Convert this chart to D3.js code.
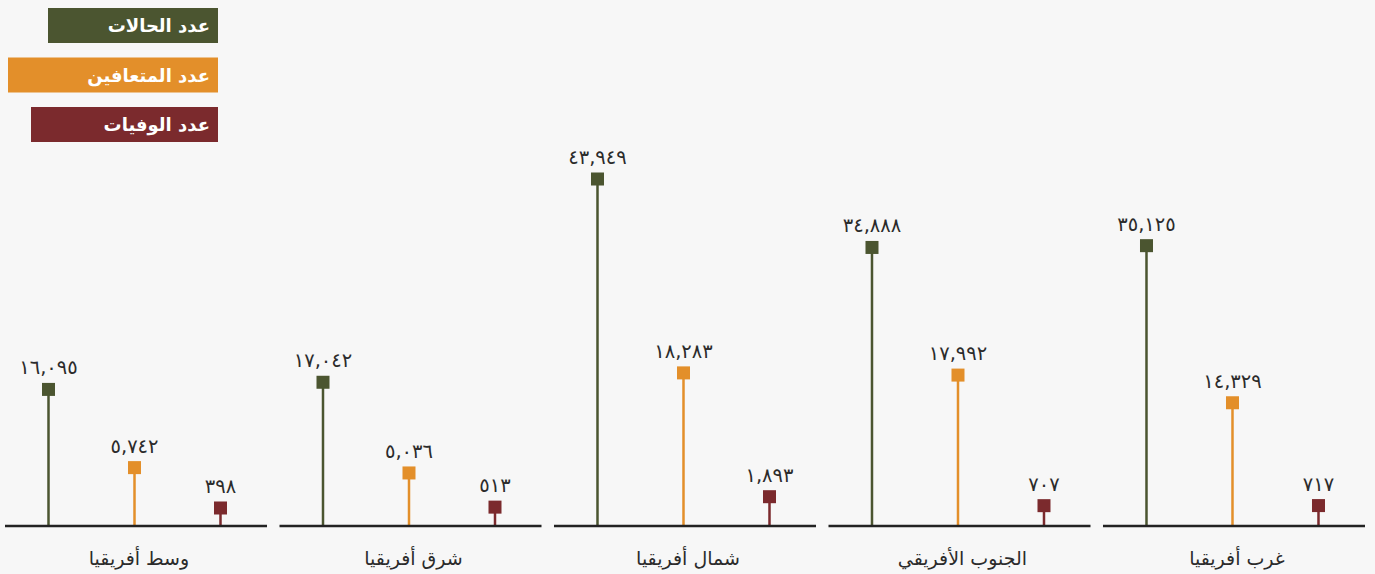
<!DOCTYPE html>
<html lang="ar">
<head>
    <meta charset="UTF-8">
    <title>Africa</title>
    <script src="https://cdn.jsdelivr.net/npm/d3@7"></script>
    <style>
        body{ margin:0; background:#f7f7f7; }
        svg{ display:block; font-family:"DejaVu Sans", sans-serif; }
        .val{ font-size:19.5px; fill:#2b2b2b; }
        .cat{ font-size:19px; fill:#2b2b2b; }
        .leg{ font-size:18px; font-weight:bold; fill:#fff; }
    </style>
</head>
<body>
<svg width="1375" height="574"></svg>
<script>
    // regions, left to right as drawn
    const regions = ["وسط أفريقيا", "شرق أفريقيا", "شمال أفريقيا", "الجنوب الأفريقي", "غرب أفريقيا"];
    const series = ["عدد الحالات", "عدد المتعافين", "عدد الوفيات"];
    const colors = ["#4b5530", "#e38f2a", "#7b2a2d"];
    const cases = [16095, 17042, 43949, 34888, 35125];
    const recovered = [5742, 5036, 18283, 17992, 14329];
    const deaths = [398, 513, 1893, 707, 717];

    const values = [cases, recovered, deaths];
    const baseline = 526;

    const svg = d3.select("svg");

    // arabic-indic digits
    const toArabic = s => s.replace(/[0-9]/g, d => "٠١٢٣٤٥٦٧٨٩"[+d]);
    const fmt = d3.format(",");

    const x = d3.scaleBand().domain(regions).range([5, 1365]).paddingInner(0.0455);
    const xs = d3.scalePoint().domain(series).range([0.5, 258.5]).padding(0.5);
    const y = d3.scaleLinear().domain([0, 43949]).range([baseline - 15, baseline - 347]);

    const panels = svg.selectAll(".panel")
        .data(regions)
        .enter()
        .append("g")
        .attr("transform", d => `translate(${x(d)},0)`);

    panels.each(function(region, ri){
        const g = d3.select(this);
        series.forEach((s, si) => {
            const v = values[si][ri];
            const cx = xs(s);
            g.append("line")
                .attr("x1", cx).attr("x2", cx)
                .attr("y1", baseline).attr("y2", y(v))
                .attr("stroke", colors[si])
                .attr("stroke-width", 2.5);
            g.append("rect")
                .attr("x", cx - 6.5).attr("y", y(v) - 6.5)
                .attr("width", 13).attr("height", 13)
                .attr("fill", colors[si]);
            g.append("text")
                .attr("class", "val")
                .attr("x", cx).attr("y", y(v) - 15)
                .attr("text-anchor", "middle")
                .text(toArabic(fmt(v)));
        });
        g.append("line")
            .attr("x1", 0).attr("x2", x.bandwidth())
            .attr("y1", baseline).attr("y2", baseline)
            .attr("stroke", "#222")
            .attr("stroke-width", 2.5);
        g.append("text")
            .attr("class", "cat")
            .attr("x", x.bandwidth() / 2 + 3).attr("y", 565)
            .attr("text-anchor", "middle")
            .text(region);
    });

    // legend boxes
    const legLeft = [48, 8, 31];
    const leg = svg.selectAll(".leg-g")
        .data(series)
        .enter()
        .append("g");
    leg.append("rect")
        .attr("x", (d, i) => legLeft[i])
        .attr("y", (d, i) => 8 + i * 49.5)
        .attr("width", (d, i) => 218 - legLeft[i])
        .attr("height", 35)
        .attr("fill", (d, i) => colors[i]);
    leg.append("text")
        .attr("class", "leg")
        .attr("x", 210)
        .attr("y", (d, i) => 32 + i * 49.5)
        .attr("text-anchor", "end")
        .text(d => d);
</script>
</body>
</html>
